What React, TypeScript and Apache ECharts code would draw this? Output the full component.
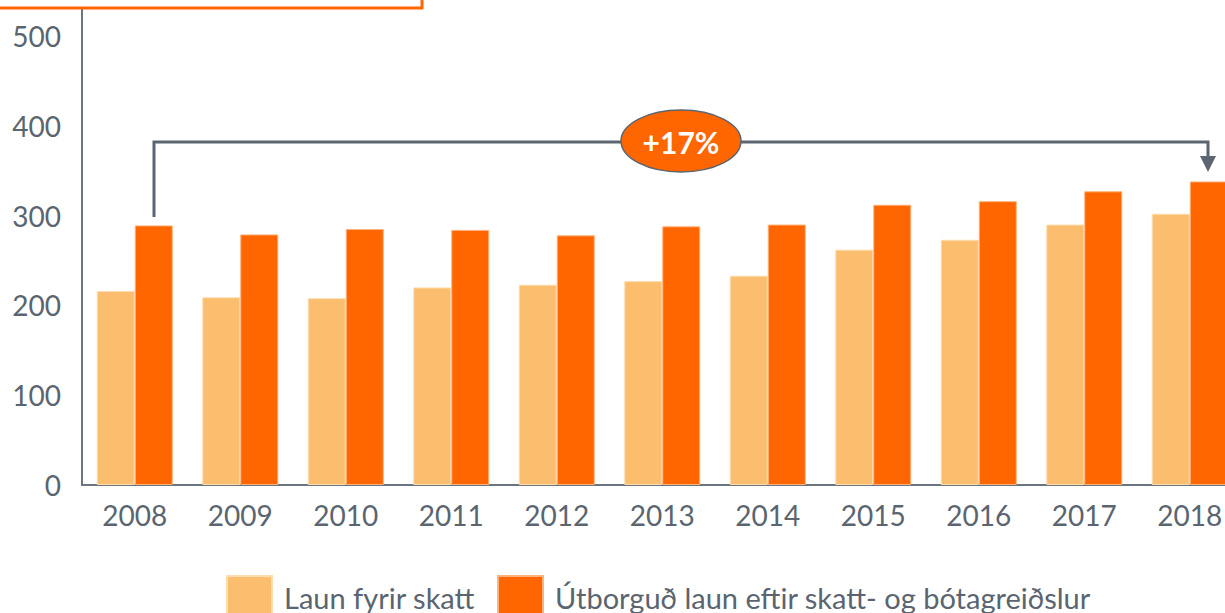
import React, { useEffect, useRef } from "react";
import * as echarts from "echarts";

const years = ["2008", "2009", "2010", "2011", "2012", "2013", "2014", "2015", "2016", "2017", "2018"];
const before = [216, 209, 208, 220, 223, 227, 233, 262, 273, 290, 302];
const after = [289, 279, 285, 284, 278, 288, 290, 312, 316, 327, 338];
const seriesNames = ["Laun fyrir skatt", "Útborguð laun eftir skatt- og bótagreiðslur"];
const changeLabel = "+17%";

const GRAY = "#5A6570";
const FONT = "Lato, 'Open Sans', sans-serif";

export default function App() {
  const ref = useRef<HTMLDivElement>(null);
  useEffect(() => {
    if (!ref.current) return;
    const chart = echarts.init(ref.current, undefined, { renderer: "svg" });
    chart.setOption({
      animation: false,
      backgroundColor: "#ffffff",
      textStyle: { fontFamily: FONT },
      grid: { left: 82, top: 0, width: 1160.5, height: 485, containLabel: false },
      legend: {
        left: 226,
        top: 575,
        padding: 0,
        itemWidth: 45,
        itemHeight: 42,
        itemGap: 22,
        icon: "rect",
        textStyle: { fontSize: 29, color: GRAY, fontFamily: FONT, padding: [0, 0, 0, 7] },
        data: seriesNames,
      },
      xAxis: {
        type: "category",
        data: years,
        axisLine: { lineStyle: { color: "#6B7580", width: 2 } },
        axisTick: { show: false },
        axisLabel: { fontSize: 28, color: GRAY, margin: 16, fontFamily: FONT },
      },
      yAxis: {
        type: "value",
        min: 0,
        max: 540,
        interval: 100,
        splitLine: { show: false },
        axisLine: { show: true, lineStyle: { color: "#6B7580", width: 2 } },
        axisTick: { show: false },
        axisLabel: {
          fontSize: 28,
          color: GRAY,
          margin: 21,
          fontFamily: FONT,
          showMaxLabel: false,
          formatter: (v: number) => (v % 100 === 0 ? String(v) : ""),
        },
      },
      series: [
        {
          name: seriesNames[0],
          type: "bar",
          data: before,
          barWidth: 38,
          barGap: "0%",
          itemStyle: { color: "#FBBE6E", borderColor: "#FDDDB0", borderWidth: 1 },
        },
        {
          name: seriesNames[1],
          type: "bar",
          data: after,
          barWidth: 38,
          barGap: "0%",
          itemStyle: { color: "#FF6600", borderColor: "#FFB27A", borderWidth: 1 },
        },
      ],
      graphic: [
        {
          type: "rect",
          z: 100,
          shape: { x: -10, y: -30, width: 432, height: 38 },
          style: { fill: "#ffffff", stroke: "#FF6600", lineWidth: 3 },
        },
        {
          type: "polyline",
          z: 100,
          shape: { points: [[154, 217], [154, 142], [1208, 142], [1208, 158]] },
          style: { stroke: "#5B6670", lineWidth: 3, fill: null },
        },
        {
          type: "polygon",
          z: 100,
          shape: { points: [[1200, 156], [1216, 156], [1208, 172]] },
          style: { fill: "#5B6670" },
        },
        {
          type: "ellipse",
          z: 101,
          shape: { cx: 681, cy: 141, rx: 60, ry: 31 },
          style: { fill: "#FF6600", stroke: "#5B6670", lineWidth: 1.5 },
        },
        {
          type: "text",
          z: 102,
          x: 681,
          y: 142,
          style: {
            text: changeLabel,
            fill: "#ffffff",
            font: "bold 30px " + FONT,
            align: "center",
            verticalAlign: "middle",
          },
        },
      ],
    });
    return () => chart.dispose();
  }, []);
  return (
    <div
      style={{
        position: "absolute",
        left: 0,
        top: 0,
        width: 1225,
        height: 613,
        overflow: "hidden",
      }}
    >
      <div ref={ref} style={{ width: 1250, height: 613 }} />
    </div>
  );
}
